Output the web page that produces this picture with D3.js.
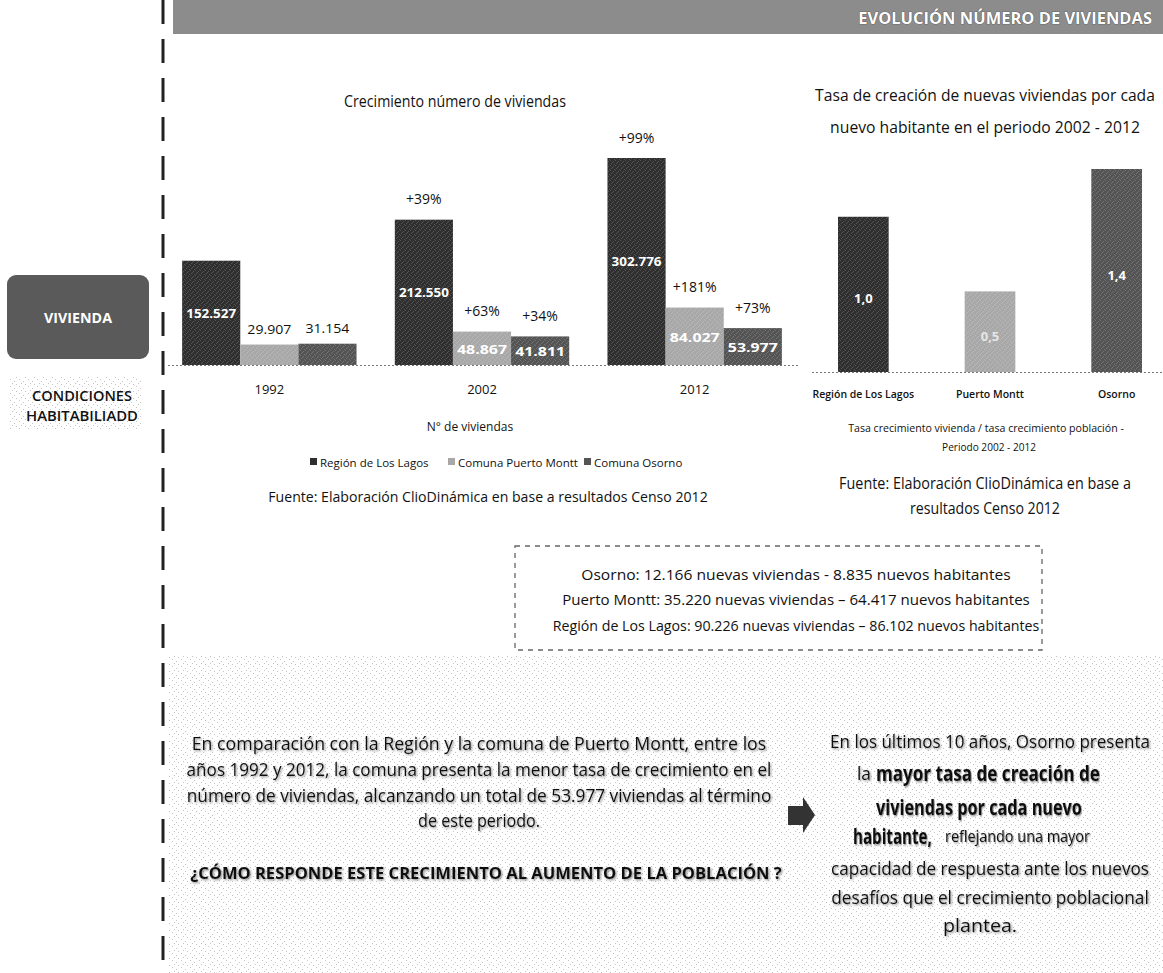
<!DOCTYPE html>
<html><head><meta charset="utf-8">
<script src="https://cdn.jsdelivr.net/npm/d3@7"></script>
<style>html,body{margin:0;padding:0;background:#fff;}svg{display:block;font-family:"Open Sans","Noto Sans",sans-serif;}</style>
</head><body>
<svg id="c" width="1163" height="973"></svg>
<script>
// ---------- DATA ----------
const years = ["1992", "2002", "2012"];
const seriesNames = ["Región de Los Lagos", "Comuna Puerto Montt", "Comuna Osorno"];
const regionValues = [152527, 212550, 302776];
const puertoMonttValues = [29907, 48867, 84027];
const osornoValues = [31154, 41811, 53977];
const regionGrowth = ["", "+39%", "+99%"];
const puertoMonttGrowth = ["", "+63%", "+181%"];
const osornoGrowth = ["", "+34%", "+73%"];

const rateCategories = ["Región de Los Lagos", "Puerto Montt", "Osorno"];
const rateValues = [1.04, 0.54, 1.36];

const boxLines = [
  "Osorno: 12.166 nuevas viviendas - 8.835 nuevos habitantes",
  "Puerto Montt: 35.220 nuevas viviendas – 64.417 nuevos habitantes",
  "Región de Los Lagos: 90.226 nuevas viviendas – 86.102 nuevos habitantes"
];

// ---------- SETUP ----------
const svg = d3.select("#c");
const es = d3.formatLocale({decimal: ",", thousands: ".", grouping: [3], currency: ["$", ""]});
const fmtInt = es.format(",d");
const fmtRate = es.format(".1f");
const colors = ["#2f2f2f", "#a8a8a8", "#545454"];

const defs = svg.append("defs");
const sp = defs.append("pattern").attr("id", "speck").attr("width", 9).attr("height", 7).attr("patternUnits", "userSpaceOnUse");
[[1,1],[5,3],[3,5],[7,6]].forEach(p => sp.append("rect").attr("x", p[0]).attr("y", p[1]).attr("width", 1).attr("height", 1).attr("fill", "#c4c4c4"));
const bs = defs.append("pattern").attr("id", "bspeck").attr("width", 5).attr("height", 5).attr("patternUnits", "userSpaceOnUse");
[[0,0],[3,1],[1,3],[4,4],[2,2]].forEach(p => bs.append("rect").attr("x", p[0]).attr("y", p[1]).attr("width", 1).attr("height", 1).attr("fill", "#fff"));
const sh = defs.append("filter").attr("id", "shadow").attr("x", "-5%").attr("y", "-30%").attr("width", "110%").attr("height", "160%");
sh.append("feDropShadow").attr("dx", 1.2).attr("dy", 1.2).attr("stdDeviation", 0.9).attr("flood-color", "#555").attr("flood-opacity", 0.7);

// text helper: optional target width is reached by horizontal scaling (condensed look)
function T(sel, x, y, s, o) {
  o = o || {};
  const anchor = o.anchor || "middle";
  const t = sel.append("text").attr("x", 0).attr("y", 0).text(s)
    .attr("font-size", o.size || 12)
    .attr("font-weight", o.weight || 400)
    .attr("fill", o.fill || "#111")
    .attr("text-anchor", anchor)
    .attr("dominant-baseline", "central");
  let tr = `translate(${x},${y})`;
  if (o.w) {
    const nw = t.node().getComputedTextLength();
    if (nw > 0) tr += ` scale(${(o.w / nw).toFixed(4)},1)`;
  }
  t.attr("transform", tr);
  if (o.filter) t.attr("filter", o.filter);
  return t;
}

// ---------- FRAME ----------
svg.append("rect").attr("x", 173).attr("y", 0).attr("width", 990).attr("height", 34).attr("fill", "#8c8c8c");
T(svg, 1152, 18, "EVOLUCIÓN NÚMERO DE VIVIENDAS", {size: 16, weight: 700, fill: "#fff", anchor: "end", w: 294})
  .attr("stroke", "#444").attr("stroke-width", 0.7).attr("paint-order", "stroke");

svg.append("line").attr("x1", 163).attr("x2", 163).attr("y1", 0).attr("y2", 973)
  .attr("stroke", "#222").attr("stroke-width", 3).attr("stroke-dasharray", "24,15");

svg.append("rect").attr("x", 7).attr("y", 275).attr("width", 142).attr("height", 84).attr("rx", 9).attr("fill", "#5a5a5a");
T(svg, 78, 317, "VIVIENDA", {size: 15, weight: 700, fill: "#fff", w: 68});
svg.append("rect").attr("x", 10).attr("y", 377).attr("width", 132).attr("height", 52).attr("fill", "url(#speck)");
T(svg, 82, 395, "CONDICIONES", {size: 15, weight: 600, w: 100});
T(svg, 82, 415, "HABITABILIADD", {size: 15, weight: 600, w: 112});

// ---------- CHART 1 ----------
const g1 = svg.append("g");
const y0base = 365;
const x0 = d3.scaleBand().domain(years).range([163, 801]).paddingInner(0.18).paddingOuter(0.09);
const x1 = d3.scaleBand().domain(seriesNames).range([0, x0.bandwidth()]).padding(0);
const y1 = d3.scaleLinear().domain([0, d3.max(regionValues)]).range([y0base, 158]);

const seriesVals = [regionValues, puertoMonttValues, osornoValues];
const seriesGrowth = [regionGrowth, puertoMonttGrowth, osornoGrowth];
const rows = [];
years.forEach((yr, i) => seriesNames.forEach((s, j) => rows.push({yr, s, j, v: seriesVals[j][i], g: seriesGrowth[j][i]})));

T(g1, 455, 101, "Crecimiento número de viviendas", {size: 16, w: 222});

g1.append("line").attr("x1", 168).attr("x2", 800).attr("y1", y0base + 0.5).attr("y2", y0base + 0.5)
  .attr("stroke", "#777").attr("stroke-dasharray", "2,2");

g1.selectAll("rect.bar").data(rows).join("rect").attr("class", "bar")
  .attr("x", d => x0(d.yr) + x1(d.s)).attr("width", x1.bandwidth())
  .attr("y", d => y1(d.v)).attr("height", d => y0base - y1(d.v))
  .attr("fill", d => colors[d.j]);
g1.selectAll("rect.tex").data(rows).join("rect").attr("class", "tex")
  .attr("x", d => x0(d.yr) + x1(d.s)).attr("width", x1.bandwidth())
  .attr("y", d => y1(d.v)).attr("height", d => y0base - y1(d.v))
  .attr("fill", "url(#bspeck)").attr("opacity", 0.18);

rows.forEach(d => {
  const cx = x0(d.yr) + x1(d.s) + x1.bandwidth() / 2;
  const h = y0base - y1(d.v);
  if (h > 25) T(g1, cx, y1(d.v) + h / 2, fmtInt(d.v), {size: 13, weight: 700, fill: "#fff", w: 50});
  else T(g1, cx, y1(d.v) - 16, fmtInt(d.v), {size: 13.5, w: 44});
  if (d.g) T(g1, cx, y1(d.v) - 21, d.g, {size: 14});
});

const xAxis1 = g1.append("g").attr("transform", `translate(0,${y0base + 24})`)
  .call(d3.axisBottom(x0).tickSize(0).tickPadding(0));
xAxis1.select(".domain").remove();
xAxis1.selectAll("text").attr("font-size", 13).attr("fill", "#111").attr("dy", "0.35em")
  .attr("font-family", "Open Sans, sans-serif");

T(g1, 470, 426, "N° de viviendas", {size: 12});
const leg = g1.append("g");
const legX = [310, 448, 584];
seriesNames.forEach((s, j) => {
  leg.append("rect").attr("x", legX[j]).attr("y", 458).attr("width", 7).attr("height", 7).attr("fill", colors[j]);
  T(leg, legX[j] + 10, 462, s, {size: 11.5, anchor: "start"});
});
T(g1, 488, 496, "Fuente: Elaboración ClioDinámica en base a resultados Censo 2012", {size: 15, w: 440});

// ---------- CHART 2 ----------
const g2 = svg.append("g");
const base2 = 372;
const xr = d3.scaleBand().domain(rateCategories).range([800, 1180]).paddingInner(0.6).paddingOuter(0.3);
const yr = d3.scaleLinear().domain([0, d3.max(rateValues)]).range([base2, 169]);

T(g2, 985, 95, "Tasa de creación de nuevas viviendas por cada", {size: 17, w: 340});
T(g2, 985, 127, "nuevo habitante en el periodo 2002 - 2012", {size: 17, w: 310});

g2.append("line").attr("x1", 812).attr("x2", 1163).attr("y1", base2 + 0.5).attr("y2", base2 + 0.5)
  .attr("stroke", "#777").attr("stroke-dasharray", "2,2");
g2.selectAll("rect.bar").data(rateValues).join("rect").attr("class", "bar")
  .attr("x", (d, i) => xr(rateCategories[i])).attr("width", xr.bandwidth())
  .attr("y", d => yr(d)).attr("height", d => base2 - yr(d))
  .attr("fill", (d, i) => colors[i]);
g2.selectAll("rect.tex").data(rateValues).join("rect").attr("class", "tex")
  .attr("x", (d, i) => xr(rateCategories[i])).attr("width", xr.bandwidth())
  .attr("y", d => yr(d)).attr("height", d => base2 - yr(d))
  .attr("fill", "url(#bspeck)").attr("opacity", 0.18);
rateValues.forEach((v, i) => {
  T(g2, xr(rateCategories[i]) + xr.bandwidth() / 2, yr(v) + (base2 - yr(v)) / 2 + 4, fmtRate(v),
    {size: 13, weight: 700, fill: i === 1 ? "#e6e6e6" : "#fff"});
});
const xAxis2 = g2.append("g").attr("transform", `translate(0,${base2 + 22})`)
  .call(d3.axisBottom(xr).tickSize(0).tickPadding(0));
xAxis2.select(".domain").remove();
xAxis2.selectAll("text").attr("font-size", 10.5).attr("font-weight", 600).attr("fill", "#111").attr("dy", "0.35em")
  .attr("font-family", "Open Sans, sans-serif");

T(g2, 986, 428, "Tasa crecimiento vivienda / tasa crecimiento población -", {size: 10.5, w: 276});
T(g2, 989, 447, "Periodo 2002 - 2012", {size: 10.5, w: 94});
T(g2, 985, 483, "Fuente: Elaboración ClioDinámica en base a", {size: 16, w: 292});
T(g2, 985, 508, "resultados Censo 2012", {size: 16, w: 150});

// ---------- BOX ----------
svg.append("rect").attr("x", 515).attr("y", 546).attr("width", 527).attr("height", 104)
  .attr("fill", "none").attr("stroke", "#666").attr("stroke-width", 1.3).attr("stroke-dasharray", "5,5");
const boxW = [430, 468, 487];
boxLines.forEach((l, i) => T(svg, 796, 574 + i * 25.5, l, {size: 15, w: boxW[i]}));

// ---------- BOTTOM ----------
svg.append("rect").attr("x", 168).attr("y", 655).attr("width", 995).attr("height", 318).attr("fill", "url(#speck)");
const leftLines = [
  "En comparación con la Región y la comuna de Puerto Montt, entre los",
  "años 1992 y 2012, la comuna presenta la menor tasa de crecimiento en el",
  "número de viviendas, alcanzando un total de 53.977 viviendas al término",
  "de este periodo."
];
const leftW = [575, 585, 585, 122];
leftLines.forEach((l, i) => T(svg, 479, 743 + i * 25.7, l, {size: 18, w: leftW[i], fill: "#111", filter: "url(#shadow)"}));
T(svg, 486, 873, "¿CÓMO RESPONDE ESTE CRECIMIENTO AL AUMENTO DE LA POBLACIÓN ?", {size: 16.5, weight: 700, w: 592, fill: "#111", filter: "url(#shadow)"});

svg.append("path").attr("d", "M788,806 L803,806 L803,797 L815,815 L803,833 L803,825 L788,825 Z").attr("fill", "#333");

const rf = {fill: "#111", filter: "url(#shadow)"};
T(svg, 990, 741, "En los últimos 10 años, Osorno presenta", Object.assign({size: 18, w: 320}, rf));
T(svg, 857, 773, "la", Object.assign({size: 18, anchor: "start", w: 14}, rf));
T(svg, 876, 773, "mayor tasa de creación de", Object.assign({size: 22, weight: 700, anchor: "start", w: 224}, rf));
T(svg, 979, 806, "viviendas por cada nuevo", Object.assign({size: 22, weight: 700, w: 206}, rf));
T(svg, 853, 836, "habitante,", Object.assign({size: 22, weight: 700, anchor: "start", w: 79}, rf));
T(svg, 945, 836, "reflejando una mayor", Object.assign({size: 16.5, anchor: "start", w: 145}, rf));
T(svg, 990, 868, "capacidad de respuesta ante los nuevos", Object.assign({size: 18, w: 318}, rf));
T(svg, 990, 897, "desafíos que el crecimiento poblacional", Object.assign({size: 18, w: 318}, rf));
T(svg, 980, 925, "plantea.", Object.assign({size: 18, w: 74}, rf));
</script>
</body></html>
